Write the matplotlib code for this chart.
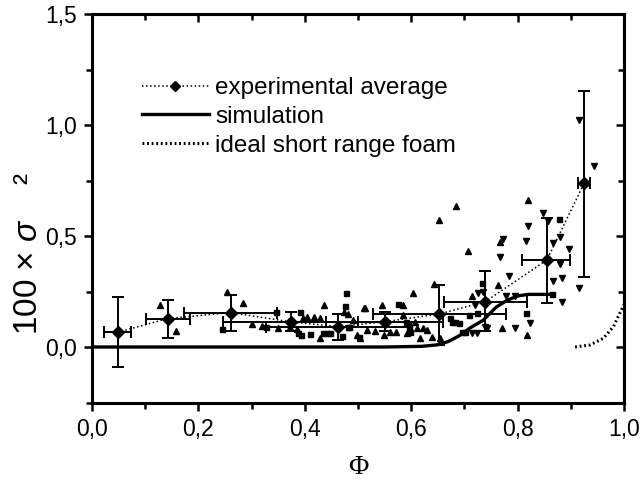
from matplotlib import pyplot as plt
from matplotlib.ticker import MultipleLocator, FuncFormatter
import numpy as np

plt.rcParams['font.family'] = ['Liberation Sans', 'DejaVu Sans']
plt.rcParams['mathtext.fontset'] = 'custom'
plt.rcParams['mathtext.rm'] = 'Liberation Sans'
plt.rcParams['mathtext.it'] = 'Liberation Sans:italic'

# experimental averages with error bounds
avg_x = [0.048, 0.142, 0.261, 0.374, 0.463, 0.551, 0.653, 0.739, 0.855, 0.925]
avg_y = [0.066, 0.128, 0.155, 0.113, 0.092, 0.114, 0.149, 0.204, 0.392, 0.737]
y_low = [-0.089, 0.042, 0.072, 0.070, 0.032, 0.070, 0.009, 0.072, 0.197, 0.317]
y_high = [0.224, 0.213, 0.234, 0.156, 0.149, 0.159, 0.279, 0.342, 0.583, 1.155]
x_low = [0.023, 0.101, 0.173, 0.247, 0.328, 0.440, 0.528, 0.662, 0.809, 0.914]
x_high = [0.073, 0.184, 0.347, 0.500, 0.600, 0.660, 0.778, 0.817, 0.898, 0.936]

# simulation curve
sim_x = [0.0, 0.55, 0.62, 0.65, 0.67, 0.69, 0.71, 0.735, 0.76, 0.78, 0.80, 0.82, 0.866]
sim_y = [0.0, 0.0, 0.003, 0.01, 0.025, 0.05, 0.085, 0.12, 0.18, 0.21, 0.23, 0.237, 0.237]

# ideal short range foam
foam_x = [0.908, 0.936, 0.961, 0.980, 0.992, 1.0]
foam_y = [0.0, 0.009, 0.039, 0.091, 0.152, 0.19]

# raw measurements (three sets)
up_x = [0.128, 0.157, 0.254, 0.284, 0.350, 0.397, 0.404, 0.372, 0.385, 0.418, 0.437, 0.429, 0.429,
        0.474, 0.481, 0.491, 0.513, 0.545, 0.498, 0.504, 0.516, 0.532, 0.548, 0.560, 0.571, 0.593,
        0.585, 0.585, 0.604, 0.643, 0.607, 0.610, 0.617, 0.623, 0.629, 0.639, 0.654, 0.652, 0.684,
        0.706, 0.820, 0.764, 0.714, 0.770, 0.817, 0.512, 0.767, 0.320, 0.300]
up_y = [0.189, 0.072, 0.249, 0.197, 0.087, 0.129, 0.134, 0.089, 0.080, 0.137, 0.189, 0.129, 0.039,
        0.159, 0.147, 0.122, 0.174, 0.189, 0.054, 0.039, 0.077, 0.074, 0.054, 0.069, 0.069, 0.062,
        0.144, 0.189, 0.242, 0.284, 0.114, 0.084, 0.039, 0.084, 0.077, 0.047, 0.039, 0.572, 0.637,
        0.434, 0.662, 0.279, 0.230, 0.084, 0.054, 0.177, 0.474, 0.095, 0.105]
sq_x = [0.244, 0.346, 0.328, 0.391, 0.388, 0.392, 0.410, 0.477, 0.476, 0.441, 0.447, 0.469, 0.484,
        0.501, 0.435, 0.576, 0.482, 0.591, 0.595, 0.598, 0.733, 0.708, 0.723, 0.676, 0.682, 0.690,
        0.673, 0.695, 0.701, 0.816, 0.877, 0.864]
sq_y = [0.080, 0.159, 0.092, 0.156, 0.062, 0.055, 0.059, 0.242, 0.185, 0.062, 0.062, 0.050, 0.089,
        0.047, 0.065, 0.194, 0.092, 0.114, 0.092, 0.069, 0.290, 0.144, 0.152, 0.114, 0.114, 0.107,
        0.132, 0.069, 0.069, 0.152, 0.577, 0.239]
dn_x = [0.726, 0.735, 0.783, 0.778, 0.795, 0.720, 0.714, 0.723, 0.743, 0.795, 0.739, 0.848, 0.858,
        0.820, 0.816, 0.773, 0.766, 0.867, 0.880, 0.897, 0.879, 0.867, 0.883, 0.915, 0.883, 0.823,
        0.944, 0.915]
dn_y = [0.245, 0.250, 0.321, 0.230, 0.230, 0.189, 0.065, 0.062, 0.084, 0.084, 0.092, 0.605, 0.568,
        0.545, 0.479, 0.485, 0.404, 0.467, 0.494, 0.440, 0.374, 0.297, 0.309, 0.267, 0.201, 0.107,
        0.817, 1.022]

fig = plt.figure(figsize=(6.43, 4.8), dpi=100)
ax = fig.add_axes([92/643, 1-402.5/480, 532/643, 388.5/480])

ax.plot(up_x, up_y, linestyle='none', marker='^', color='k', markersize=4.5, zorder=2)
ax.plot(sq_x, sq_y, linestyle='none', marker='s', color='k', markersize=3.6, zorder=2)
ax.plot(dn_x, dn_y, linestyle='none', marker='v', color='k', markersize=4.5, zorder=2)

avg = np.array(avg_y)
ax.errorbar(avg_x, avg_y,
            yerr=[avg - np.array(y_low), np.array(y_high) - avg],
            xerr=[np.array(avg_x) - np.array(x_low), np.array(x_high) - np.array(avg_x)],
            fmt='none', ecolor='k', elinewidth=1.4, capsize=4.5, capthick=1.4, zorder=3)
avg_line, = ax.plot(avg_x, avg_y, color='k', linestyle=':', linewidth=1.1, marker='D',
                    markersize=6.5, zorder=4, label='experimental average')
sim_line, = ax.plot(sim_x, sim_y, color='k', linewidth=2.4, zorder=3, label='simulation')
foam_line, = ax.plot(foam_x, foam_y, color='k', linestyle=(0, (0.6, 0.9)), linewidth=2.2,
                     zorder=3, label='ideal short range foam')

ax.set_xlim(0, 1.0)
ax.set_ylim(-0.25, 1.5)

comma = FuncFormatter(lambda v, p: ('%.1f' % v).replace('.', ','))
ax.xaxis.set_major_locator(MultipleLocator(0.2))
ax.xaxis.set_minor_locator(MultipleLocator(0.1))
ax.yaxis.set_major_locator(MultipleLocator(0.5))
ax.yaxis.set_minor_locator(MultipleLocator(0.25))
ax.xaxis.set_major_formatter(comma)
ax.yaxis.set_major_formatter(comma)
ax.tick_params(which='major', direction='out', length=6, width=1.8, labelsize=16.5, pad=5)
ax.tick_params(which='minor', direction='out', length=4, width=1.8)
for s in ax.spines.values():
    s.set_linewidth(2.2)

# top and right ticks point inwards
top = ax.secondary_xaxis('top')
top.xaxis.set_major_locator(MultipleLocator(0.2))
top.xaxis.set_minor_locator(MultipleLocator(0.1))
top.tick_params(which='major', direction='in', length=6, width=1.8, labeltop=False)
top.tick_params(which='minor', direction='in', length=4, width=1.8)
top.spines['top'].set_linewidth(2.2)
right = ax.secondary_yaxis('right')
right.yaxis.set_major_locator(MultipleLocator(0.5))
right.yaxis.set_minor_locator(MultipleLocator(0.25))
right.tick_params(which='major', direction='in', length=6, width=1.8, labelright=False)
right.tick_params(which='minor', direction='in', length=4, width=1.8)
right.spines['right'].set_linewidth(2.2)

ax.set_xlabel('Φ', fontsize=20, family='Liberation Serif', labelpad=10)
ax.set_ylabel('100 × $\\it{\\sigma}$    ²', fontsize=24)
ax.yaxis.label.set_va('center')
ax.yaxis.set_label_coords(-0.12, 0.385)

ax.legend(handles=[avg_line, sim_line, foam_line], loc='upper left',
          bbox_to_anchor=(142/643, 1-77/480), bbox_transform=fig.transFigure,
          frameon=False, fontsize=17.5, handlelength=2.75, handletextpad=0.25,
          labelspacing=0.28, borderpad=0, borderaxespad=0, markerscale=0.85)

fig.savefig('out.png', dpi=100)
